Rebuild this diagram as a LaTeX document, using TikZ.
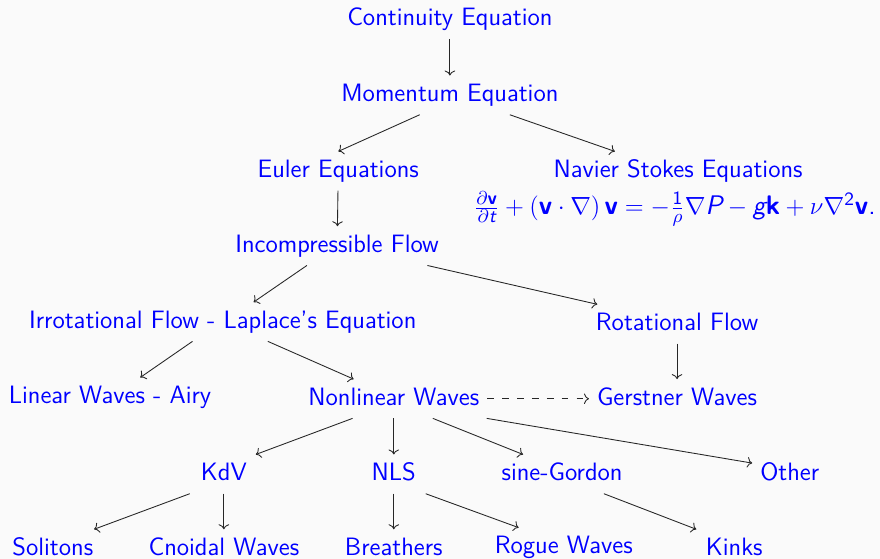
\documentclass[tikz,border=0pt]{standalone}
\usepackage{xcolor}
\usepackage{graphicx}
\usepackage{amsmath, amssymb}
\usepackage{tikz}
\usetikzlibrary{positioning,arrows.meta}
\definecolor{slidebg}{RGB}{250,250,250}
\newcommand{\vecb}[1]{\text{\bfseries #1}}
\newcommand{\sfit}[1]{\text{\itshape #1}}
\newcommand{\sfup}[1]{\text{#1}}

\begin{document}
\begin{tikzpicture}[
  font=\sffamily\fontsize{13}{15.5}\selectfont, >=To,
  lbl/.style={text=blue, inner sep=4pt, text height=9.3pt, text depth=2.6pt},
  eqn/.style={text=blue, inner sep=0pt},
  arr/.style={->, line width=0.45pt, color=black!85},
  darr/.style={arr, dash pattern=on 3.5pt off 4.2pt},
]
\fill[slidebg] (0,0) rectangle (16,-10.1636);
\useasboundingbox (0,0) rectangle (16,-10.1636);

\node[lbl] (cont)   at (8.18,-0.35) {Continuity Equation};
\node[lbl] (mom)    at (8.18,-1.73) {Momentum Equation};
\node[lbl] (euler)  at (6.15,-3.11) {Euler Equations};
\node[lbl] (navier) at (12.33,-3.11) {Navier Stokes Equations};
\node[eqn] (nseq)   at (12.27,-3.80)
  {\scalebox{1.07}{$\frac{\partial \vecb{v}}{\partial \sfit{t}} + (\vecb{v} \cdot \nabla)\, \vecb{v}
    = -\frac{\sfup{1}}{\rho} \nabla \sfit{P} - \sfit{g} \vecb{k} + \nu \nabla^{\sfup{2}} \vecb{v}\sfup{.}$}};
\node[lbl] (incomp) at (6.13,-4.47) {Incompressible Flow};
\node[lbl] (irrot)  at (4.05,-5.85) {Irrotational Flow - Laplace's Equation};
\node[lbl] (rot)    at (12.31,-5.89) {Rotational Flow};
\node[lbl] (linear) at (2.00,-7.22) {Linear Waves - Airy};
\node[lbl] (nonlin) at (7.16,-7.25) {Nonlinear Waves};
\node[lbl] (gerst)  at (12.31,-7.25) {Gerstner Waves};
\node[lbl] (kdv)    at (4.07,-8.62) {KdV};
\node[lbl] (nls)    at (7.16,-8.62) {NLS};
\node[lbl] (sine)   at (10.22,-8.62) {sine-Gordon};
\node[lbl] (other)  at (14.36,-8.62) {Other};
\node[lbl] (sol)    at (0.96,-9.98) {Solitons};
\node[lbl] (cno)    at (4.07,-9.98) {Cnoidal Waves};
\node[lbl] (breath) at (7.16,-9.98) {Breathers};
\node[lbl] (rogue)  at (10.25,-9.95) {Rogue Waves};
\node[lbl] (kinks)  at (13.35,-9.98) {Kinks};

\draw[arr] (cont)--(mom);
\draw[arr] ([xshift=-0.55cm]mom.south)--(euler.north);
\draw[arr] ([xshift=1.09cm]mom.south)--([xshift=-1.15cm]navier.north);
\draw[arr] (euler)--(incomp);
\draw[arr] ([xshift=-0.55cm]incomp.south)--([xshift=0.56cm]irrot.north);
\draw[arr] ([xshift=1.64cm]incomp.south)--([xshift=-1.45cm]rot.north);
\draw[arr] ([xshift=-0.55cm]irrot.south)--([xshift=0.55cm]linear.north);
\draw[arr] ([xshift=0.82cm]irrot.south)--([xshift=-0.73cm]nonlin.north);
\draw[arr] (rot)--(gerst);
\draw[darr] (nonlin)--(gerst);
\draw[arr] ([xshift=-0.75cm]nonlin.south)--([xshift=0.58cm]kdv.north);
\draw[arr] (nonlin)--(nls);
\draw[arr] ([xshift=0.71cm]nonlin.south)--([xshift=-0.71cm]sine.north);
\draw[arr] ([xshift=1.69cm]nonlin.south)--([yshift=0.2cm]other.west);
\draw[arr] ([xshift=-0.62cm]kdv.south)--([xshift=0.75cm]sol.north);
\draw[arr] (kdv)--(cno);
\draw[arr] (nls)--(breath);
\draw[arr] ([xshift=0.58cm]nls.south)--([xshift=-0.82cm]rogue.north);
\draw[arr] ([xshift=0.76cm]sine.south)--([xshift=-0.69cm]kinks.north);
\end{tikzpicture}
\end{document}
